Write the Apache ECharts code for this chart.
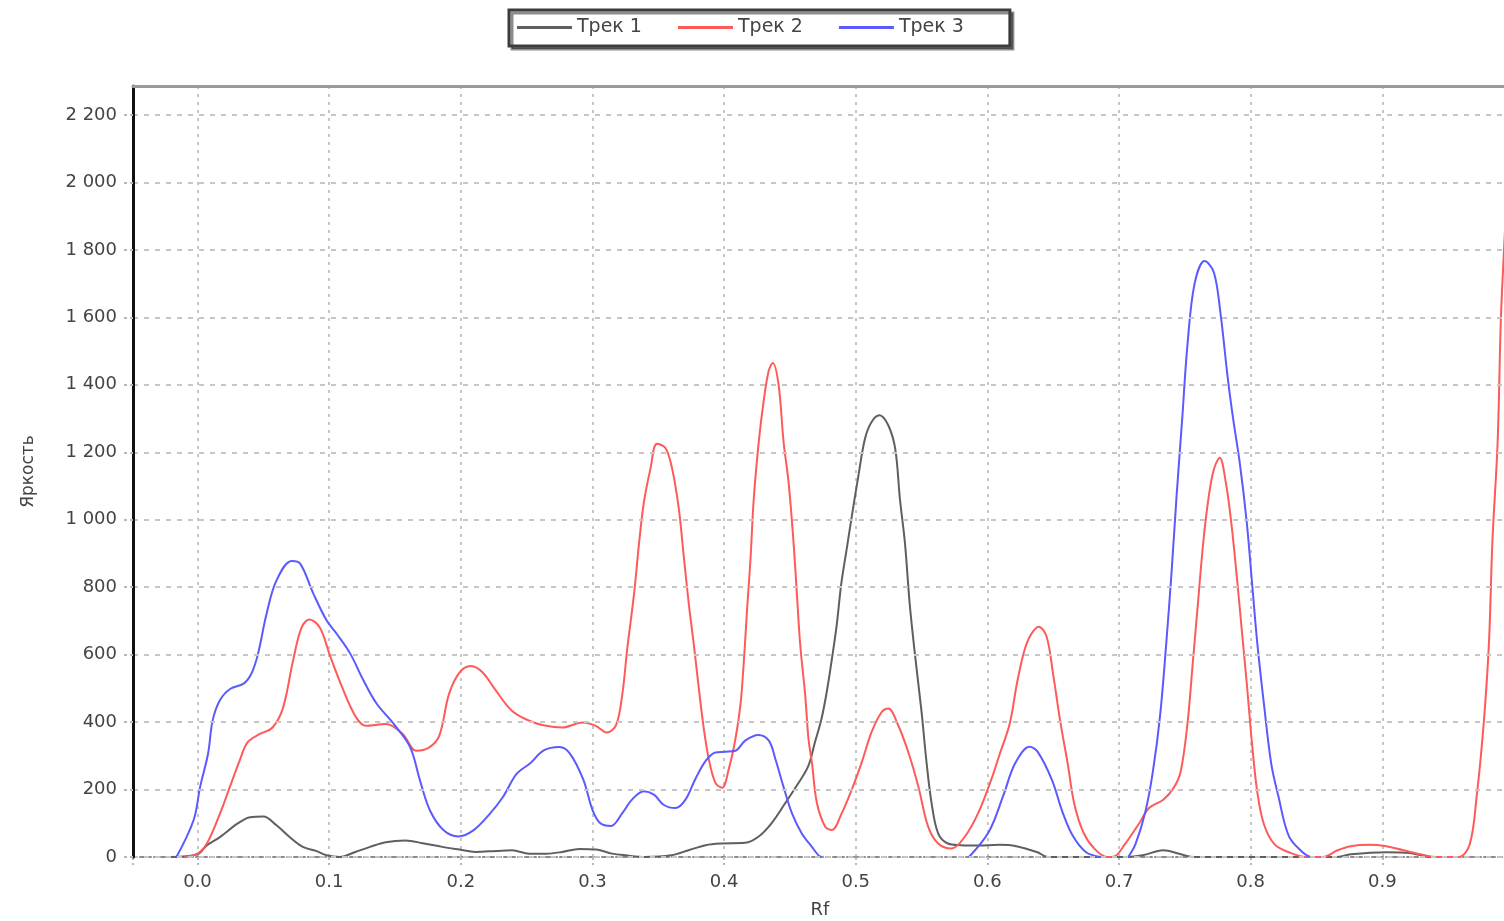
<!DOCTYPE html>
<html><head><meta charset="utf-8">
<script src="https://cdn.jsdelivr.net/npm/echarts@6/dist/echarts.min.js"></script>
<style>html,body{margin:0;padding:0;background:#fff;overflow:hidden;}#c{width:1504px;height:921px;}</style>
</head><body><div id="c"></div>
<script>
const seriesNames = ['Трек 1', 'Трек 2', 'Трек 3'];
const xTickLabels = ['0.0','0.1','0.2','0.3','0.4','0.5','0.6','0.7','0.8','0.9'];
const yTickLabels = ['0','200','400','600','800','1 000','1 200','1 400','1 600','1 800','2 000','2 200'];

const track1Rf  = [-0.02,0.0,0.007,0.017,0.03,0.04,0.05,0.06,0.07,0.08,0.09,0.098,0.108,0.12,0.131,0.143,0.158,0.171,0.186,0.199,0.211,0.227,0.239,0.252,0.265,0.277,0.29,0.303,0.315,0.325,0.34,0.36,0.373,0.386,0.398,0.416,0.426,0.436,0.4465,0.4566,0.464,0.469,0.474,0.478,0.482,0.4856,0.489,0.493,0.497,0.502,0.507,0.512,0.518,0.5247,0.53,0.5336,0.5374,0.541,0.545,0.55,0.5538,0.5576,0.5626,0.57,0.58,0.593,0.609,0.622,0.638,0.646,0.705,0.718,0.7336,0.747,0.757,0.865,0.876,0.903,0.921,0.937,0.95];
const track1Val = [0,8,34,59,98,118,120,94,59,30,18,5,0,15,30,44,49,41,30,22,15,18,20,10,10,15,24,22,10,5,0,5,20,35,40,42,60,100,160,220,270,340,410,490,590,690,810,910,1010,1130,1240,1290,1310,1280,1210,1060,930,750,600,430,280,160,70,40,35,34,36,32,14,0,0,5,20,8,0,0,8,14,12,0,0];

const track2Rf  = [-0.01,0.0,0.007,0.017,0.0245,0.032,0.038,0.047,0.057,0.065,0.0725,0.079,0.085,0.093,0.1003,0.11,0.1205,0.128,0.143,0.156,0.166,0.176,0.1837,0.191,0.199,0.2077,0.2166,0.2267,0.239,0.252,0.2646,0.277,0.2924,0.3025,0.311,0.318,0.3227,0.3265,0.3316,0.3354,0.339,0.344,0.349,0.3556,0.3606,0.3657,0.3694,0.3732,0.377,0.3808,0.3846,0.3884,0.3934,0.3985,0.4035,0.4086,0.4124,0.415,0.4174,0.42,0.4225,0.4263,0.43,0.4338,0.437,0.4414,0.4452,0.449,0.4528,0.4553,0.4578,0.4616,0.4641,0.4667,0.4705,0.4768,0.4818,0.4894,0.497,0.5045,0.512,0.5197,0.5247,0.5323,0.54,0.5475,0.555,0.5626,0.5727,0.5828,0.593,0.603,0.609,0.617,0.6225,0.628,0.633,0.639,0.645,0.65,0.6556,0.661,0.666,0.6728,0.681,0.691,0.6966,0.7045,0.715,0.723,0.7336,0.7415,0.7468,0.752,0.756,0.76,0.764,0.768,0.772,0.7765,0.781,0.785,0.789,0.793,0.797,0.801,0.805,0.81,0.818,0.829,0.842,0.855,0.866,0.876,0.89,0.903,0.916,0.929,0.94,0.958,0.9664,0.9717,0.977,0.981,0.9836,0.9876,0.99,0.9923,0.995];
const track2Val = [0,10,39,128,207,286,340,364,384,443,581,680,704,680,601,502,414,389,394,364,315,325,360,483,547,566,547,493,433,404,389,384,399,389,369,392,483,620,780,930,1050,1150,1225,1212,1150,1030,890,750,630,500,380,290,220,205,260,350,450,580,730,880,1060,1230,1350,1440,1465,1400,1230,1110,930,780,630,480,350,280,160,90,80,130,200,280,370,430,440,390,310,210,90,40,25,60,130,230,301,396,516,611,659,683,653,540,396,277,158,74,26,0,2,38,98,146,170,205,253,396,575,755,934,1065,1149,1184,1113,1000,850,683,516,337,193,98,38,14,0,0,20,32,36,32,20,8,0,0,38,181,396,635,934,1232,1590,1790,2000];

const track3Rf  = [-0.016,-0.003,0.002,0.008,0.0115,0.017,0.025,0.035,0.041,0.046,0.0525,0.06,0.0715,0.078,0.088,0.098,0.1057,0.116,0.126,0.136,0.149,0.1615,0.169,0.1766,0.187,0.198,0.2095,0.222,0.232,0.2425,0.2525,0.263,0.275,0.283,0.293,0.3,0.306,0.314,0.3227,0.33,0.339,0.3467,0.354,0.363,0.3707,0.378,0.386,0.3934,0.401,0.4086,0.416,0.426,0.434,0.439,0.445,0.4515,0.459,0.4667,0.4717,0.474,0.53,0.586,0.601,0.612,0.621,0.632,0.638,0.649,0.657,0.665,0.675,0.686,0.696,0.707,0.7125,0.72,0.7257,0.7312,0.736,0.74,0.7437,0.748,0.752,0.7574,0.765,0.772,0.777,0.7825,0.7865,0.792,0.797,0.801,0.805,0.81,0.8156,0.821,0.829,0.8394,0.845];
const track3Val = [0,109,208,306,405,465,499,514,544,603,722,820,878,870,781,702,662,603,524,455,395,326,227,138,79,61,79,128,178,247,277,316,326,306,230,140,100,92,130,170,195,185,155,145,170,230,285,310,312,315,345,362,345,290,210,130,70,30,5,0,null,0,74,181,277,327,313,229,134,62,14,0,null,0,38,134,253,420,640,850,1070,1300,1520,1700,1767,1734,1614,1423,1304,1160,993,814,635,456,277,181,62,14,0];

const colors = ['#5f5f5f', '#ff5a5a', '#5a5aff'];

function pairs(rf, val) { return rf.map((r, i) => [r, val[i] === null ? '-' : val[i]]); }
const fontFam = '"DejaVu Sans", Verdana, sans-serif';
const X_MIN = -0.049, X_MAX = 0.9947;

const chart = echarts.init(document.getElementById('c'), null, {renderer: 'canvas'});
chart.setOption({
  animation: false,
  backgroundColor: '#fff',
  color: colors,
  legend: {
    data: seriesNames,
    top: 10, left: 509,
    icon: 'rect', itemWidth: 55, itemHeight: 3, itemGap: 36,
    padding: [8, 46, 9, 8],
    borderColor: '#3c3c3c', borderWidth: 3,
    backgroundColor: '#fff',
    shadowColor: 'rgba(0,0,0,0.45)', shadowOffsetX: 3, shadowOffsetY: 3, shadowBlur: 0,
    textStyle: {fontFamily: fontFam, fontSize: 19, color: '#444'}
  },
  grid: {left: 133, width: 1374, top: 86, height: 771, containLabel: false, outerBoundsMode: 'none'},
  xAxis: [{
    type: 'value', min: X_MIN, max: X_MAX, splitNumber: 10, position: 'bottom',
    name: 'Rf', nameLocation: 'middle', nameGap: 44,
    nameTextStyle: {fontFamily: fontFam, fontSize: 18, color: '#444'},
    axisLine: {show: true, onZero: false, lineStyle: {color: '#8c8c8c', width: 2, type: [4, 3]}},
    axisTick: {show: true, length: 8, lineStyle: {color: '#b8b8b8', width: 2, type: [3, 3]}},
    axisLabel: {
      margin: 16, color: '#444', fontFamily: fontFam, fontSize: 18,
      formatter: function (v) {
        const k = Math.round(v * 10);
        return (Math.abs(v * 10 - k) < 1e-6 && k >= 0 && k < xTickLabels.length) ? xTickLabels[k] : '';
      }
    },
    splitLine: {show: true, lineStyle: {color: '#c6c6c6', width: 2, type: [3, 5]}}
  }, {
    type: 'value', min: X_MIN, max: X_MAX, position: 'top', z: 10,
    axisLine: {show: true, onZero: false, lineStyle: {color: '#9a9a9a', width: 3}},
    axisTick: {show: false}, axisLabel: {show: false}, splitLine: {show: false}
  }],
  yAxis: {
    type: 'value', min: 0, max: 2286, interval: 200, z: 10,
    name: 'Яркость', nameLocation: 'middle', nameGap: 96,
    nameTextStyle: {fontFamily: fontFam, fontSize: 17, color: '#444'},
    axisLine: {show: true, onZero: false, lineStyle: {color: '#111', width: 3}},
    axisTick: {show: true, length: 10, lineStyle: {color: '#b8b8b8', width: 2, type: [3, 3]}},
    axisLabel: {
      margin: 16, color: '#444', fontFamily: fontFam, fontSize: 18, showMaxLabel: false,
      formatter: function (v) {
        const k = Math.round(v / 200);
        return (Math.abs(v / 200 - k) < 1e-6 && k < yTickLabels.length) ? yTickLabels[k] : '';
      }
    },
    splitLine: {show: true, lineStyle: {color: '#c6c6c6', width: 2, type: [5, 6]}}
  },
  series: [
    {name: seriesNames[0], type: 'line', data: pairs(track1Rf, track1Val), smooth: 0.35, showSymbol: false, connectNulls: false, lineStyle: {width: 2, color: colors[0]}, itemStyle: {color: colors[0]}, z: 3},
    {name: seriesNames[1], type: 'line', data: pairs(track2Rf, track2Val), smooth: 0.35, showSymbol: false, connectNulls: false, lineStyle: {width: 2, color: colors[1]}, itemStyle: {color: colors[1]}, z: 4},
    {name: seriesNames[2], type: 'line', data: pairs(track3Rf, track3Val), smooth: 0.35, showSymbol: false, connectNulls: false, lineStyle: {width: 2, color: colors[2]}, itemStyle: {color: colors[2]}, z: 5}
  ]
});
</script></body></html>
